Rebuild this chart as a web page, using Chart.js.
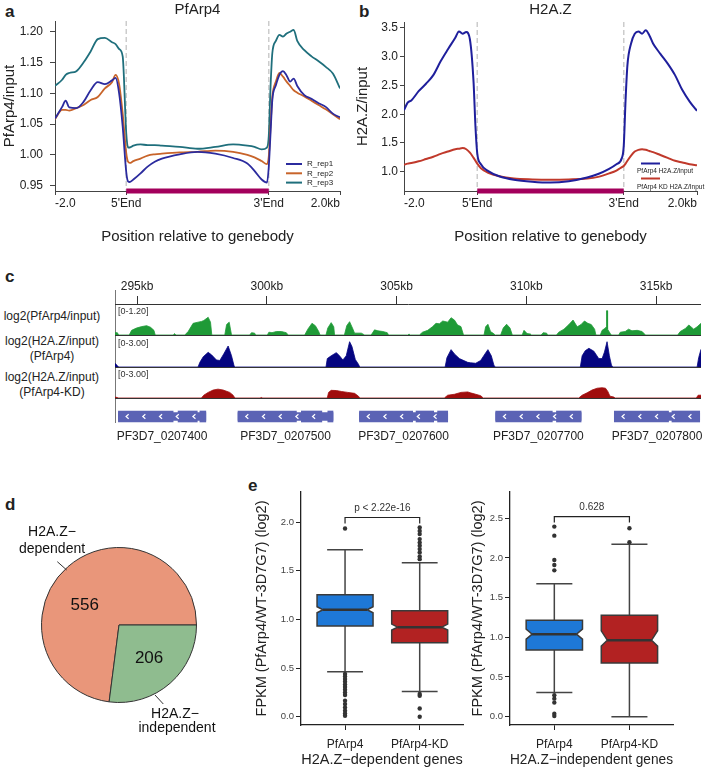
<!DOCTYPE html>
<html lang="en">
<head>
<meta charset="UTF-8">
<title>PfArp4 / H2A.Z occupancy</title>
<script src="https://cdn.jsdelivr.net/npm/chart.js"></script>
<style>
  body { margin: 0; background: #fff; }
  #fig { position: relative; width: 708px; height: 769px; overflow: hidden;
         font-family: "Liberation Sans", Arial, sans-serif; color: #222; }
  #fig canvas, #fig .t, #fig .ln { position: absolute; }
  .tag { font-weight: bold; font-size: 17px; line-height: 17px; }
  .trk { font-size: 12px; line-height: 15px; width: 104px; text-align: center; left: 0; }
  .ln { background: #333; }
</style>
</head>
<body>
<div id="fig">
  <div class="t tag" style="left:5px;top:3px">a</div>
  <div class="t tag" style="left:359px;top:3px">b</div>
  <div class="t tag" style="left:5px;top:268px">c</div>
  <div class="t tag" style="left:5px;top:496px">d</div>
  <div class="t tag" style="left:248px;top:477px">e</div>

  <canvas id="chartA" width="358" height="248" style="left:0;top:0"></canvas>
  <canvas id="chartB" width="354" height="248" style="left:354px;top:0"></canvas>

  <!-- c: genome browser -->
  <div class="t trk" style="top:309px">log2(PfArp4/input)</div>
  <div class="t trk" style="top:334px">log2(H2A.Z/input)<br>(PfArp4)</div>
  <div class="t trk" style="top:370px">log2(H2A.Z/input)<br>(PfArp4-KD)</div>
  <div class="ln" style="left:115px;top:290px;width:1px;height:133px;background:#777"></div>
  <canvas id="ruler" width="586" height="29" style="left:115px;top:276px"></canvas>
  <canvas id="trk1" width="586" height="28" style="left:115px;top:307px"></canvas>
  <canvas id="trk2" width="586" height="28" style="left:115px;top:339px"></canvas>
  <canvas id="trk3" width="586" height="28" style="left:115px;top:370px"></canvas>
  <div class="ln" style="left:115px;top:335px;width:586px;height:1px"></div>
  <div class="ln" style="left:115px;top:367px;width:586px;height:1px"></div>
  <div class="ln" style="left:115px;top:398px;width:586px;height:1px"></div>
  <canvas id="genes" width="593" height="40" style="left:115px;top:408px"></canvas>

  <canvas id="pie" width="250" height="240" style="left:0;top:505px"></canvas>
  <canvas id="boxDep" width="215" height="289" style="left:253px;top:480px"></canvas>
  <canvas id="boxInd" width="214" height="289" style="left:469px;top:480px"></canvas>
</div>

<script>
// ---------- a: PfArp4 meta-gene profile (-2..0 upstream, 0..4 scaled body, 4..6 downstream)
const profX = [-2.0, -1.8, -1.7, -1.6, -1.4, -1.2, -1.0, -0.8, -0.6, -0.4,
               -0.3, -0.2, -0.1, 0.0, 0.05, 0.1, 0.2, 0.4, 0.6, 0.8,
               1.0, 1.5, 2.0, 2.5, 3.0, 3.4, 3.6, 3.8, 3.95, 4.0,
               4.05, 4.1, 4.2, 4.3, 4.4, 4.5, 4.6, 4.7, 4.8, 5.0,
               5.2, 5.4, 5.6, 5.8, 6.0];
const rep1 = [1.059, 1.078, 1.088, 1.077, 1.076, 1.086, 1.105, 1.118, 1.115, 1.121,
              1.125, 1.100, 1.046, 0.972, 0.957, 0.956, 0.960, 0.970, 0.981, 0.989,
              0.994, 1.001, 1.005, 1.002, 0.995, 0.986, 0.974, 0.960, 0.955, 0.980,
              1.035, 1.089, 1.113, 1.130, 1.136, 1.129, 1.119, 1.124, 1.112, 1.097,
              1.091, 1.084, 1.078, 1.067, 1.061];
const rep2 = [1.058, 1.073, 1.073, 1.072, 1.076, 1.081, 1.089, 1.094, 1.108, 1.118,
              1.130, 1.115, 1.067, 1.003, 0.989, 0.987, 0.990, 0.994, 0.999, 1.001,
              1.002, 1.004, 1.005, 1.007, 1.005, 1.000, 0.996, 0.990, 0.985, 0.997,
              1.046, 1.094, 1.119, 1.133, 1.127, 1.119, 1.112, 1.105, 1.101, 1.095,
              1.088, 1.081, 1.074, 1.066, 1.058];
const rep3 = [1.112, 1.122, 1.130, 1.133, 1.136, 1.150, 1.168, 1.188, 1.190, 1.183,
              1.180, 1.172, 1.160, 1.035, 1.012, 1.012, 1.015, 1.017, 1.016, 1.016,
              1.015, 1.013, 1.010, 1.013, 1.017, 1.015, 1.013, 1.009, 1.012, 1.030,
              1.110, 1.165, 1.185, 1.195, 1.192, 1.197, 1.200, 1.203, 1.185, 1.170,
              1.160, 1.152, 1.143, 1.132, 1.108];
const aYTicks = [0.95, 1.00, 1.05, 1.10, 1.15, 1.20];

// ---------- b: H2A.Z meta-gene profile
const profXB = [-2.0, -1.9, -1.8, -1.6, -1.4, -1.2, -1.0, -0.8, -0.6, -0.5,
                -0.4, -0.3, -0.2, -0.1, -0.05, 0.0, 0.1, 0.3, 0.6, 1.0,
                1.5, 2.0, 2.5, 3.0, 3.3, 3.6, 3.8, 3.95, 4.0, 4.05,
                4.1, 4.2, 4.3, 4.4, 4.5, 4.6, 4.7, 4.8, 5.0, 5.2,
                5.4, 5.6, 5.8, 6.0];
const h2azWT = [2.07, 2.20, 2.24, 2.40, 2.53, 2.68, 2.92, 3.13, 3.33, 3.44,
                3.40, 3.43, 3.30, 2.55, 1.80, 1.32, 1.13, 1.01, 0.92, 0.86,
                0.825, 0.81, 0.835, 0.90, 0.96, 1.05, 1.13, 1.24, 1.45, 2.25,
                2.85, 3.23, 3.40, 3.44, 3.40, 3.46, 3.37, 3.23, 3.05, 2.88,
                2.68, 2.42, 2.22, 2.06];
const h2azKD = [1.12, 1.14, 1.15, 1.18, 1.22, 1.26, 1.31, 1.35, 1.39, 1.40,
                1.41, 1.39, 1.33, 1.24, 1.19, 1.14, 1.06, 0.98, 0.92, 0.88,
                0.865, 0.86, 0.865, 0.88, 0.91, 0.97, 1.02, 1.08, 1.10, 1.14,
                1.19, 1.28, 1.35, 1.38, 1.39, 1.38, 1.36, 1.34, 1.29, 1.24,
                1.19, 1.16, 1.13, 1.11];
const bYTicks = [1.0, 1.5, 2.0, 2.5, 3.0, 3.5];

const posTicks = [-2, 0, 4, 6];
const posTickLabels = ['-2.0', "5'End", "3'End", '2.0kb'];

// ---------- c: browser tracks, [kb, value]
const KB_MIN = 294.15, KB_MAX = 316.73;
const rulerTicks = [295, 300, 305, 310, 315];
const trackArp4 = [
  [294.15, 0.10], [294.24, 0.10], [294.29, 0],
  [294.70, 0], [294.79, 0.20], [294.98, 0.30], [295.18, 0.36], [295.37, 0.40], [295.52, 0.33], [295.65, 0.20], [295.70, 0],
  [296.40, 0], [296.44, 0.06], [296.50, 0],
  [296.84, 0], [296.97, 0.15], [297.16, 0.50], [297.35, 0.55], [297.48, 0.58], [297.57, 0.62], [297.74, 0.76], [297.83, 0.55], [297.88, 0],
  [298.38, 0], [298.45, 0.45], [298.55, 0.55], [298.64, 0],
  [299.34, 0], [299.41, 0.10], [299.53, 0.08], [299.57, 0],
  [300.02, 0], [300.08, 0.12], [300.20, 0.10], [300.37, 0.15], [300.56, 0.15], [300.75, 0.10], [300.82, 0],
  [301.46, 0], [301.58, 0.25], [301.74, 0.50], [301.87, 0.40], [302.00, 0.15], [302.05, 0],
  [302.28, 0], [302.35, 0.30], [302.48, 0.53], [302.58, 0.35], [302.61, 0],
  [302.99, 0], [303.08, 0.40], [303.19, 0.57], [303.32, 0.25], [303.38, 0.08], [303.64, 0.08], [303.77, 0],
  [304.02, 0], [304.15, 0.22], [304.28, 0.18], [304.47, 0.15], [304.64, 0.10], [304.69, 0],
  [305.43, 0], [305.48, 0.04], [305.53, 0],
  [305.88, 0], [306.00, 0.12], [306.20, 0.20], [306.39, 0.36], [306.52, 0.50], [306.65, 0.48], [306.78, 0.60], [306.97, 0.55],
  [307.10, 0.74], [307.23, 0.64], [307.35, 0.43], [307.48, 0.36], [307.58, 0],
  [308.37, 0], [308.43, 0.35], [308.52, 0.46], [308.62, 0.15], [308.75, 0.05], [308.80, 0],
  [309.01, 0], [309.11, 0.30], [309.24, 0.46], [309.37, 0.30], [309.46, 0],
  [309.84, 0], [309.91, 0.20], [310.03, 0.06], [310.16, 0.04], [310.20, 0],
  [310.57, 0], [310.65, 0.10], [310.78, 0.08], [310.82, 0],
  [311.16, 0], [311.25, 0.12], [311.45, 0.25], [311.64, 0.45], [311.80, 0.64], [311.96, 0.35], [312.11, 0.45], [312.24, 0.60],
  [312.37, 0.50], [312.50, 0.45], [312.63, 0.25], [312.68, 0],
  [312.85, 0], [312.92, 0.20], [313.05, 0.30], [313.08, 0.35], [313.09, 1.04], [313.12, 1.04], [313.13, 0.25], [313.24, 0.05], [313.28, 0],
  [313.56, 0], [313.62, 0.12], [313.81, 0.15], [313.94, 0.25], [314.07, 0.18], [314.27, 0.20], [314.46, 0.15], [314.59, 0],
  [315.83, 0], [315.93, 0.15], [316.13, 0.28], [316.26, 0.43], [316.45, 0.25], [316.58, 0.35], [316.73, 0.50]
];
const trackH2azWT = [
  [294.15, 0.39], [294.24, 0.15], [294.29, 0],
  [297.35, 0], [297.42, 0.50], [297.55, 1.10], [297.74, 1.57], [297.87, 1.30], [298.06, 0.75], [298.19, 0.70], [298.34, 1.40],
  [298.51, 2.25], [298.64, 1.20], [298.74, 0.10], [298.78, 0],
  [302.28, 0], [302.33, 0.90], [302.48, 1.20], [302.68, 1.54], [302.80, 1.20], [302.93, 0.75], [303.06, 1.20], [303.19, 2.71],
  [303.28, 2.20], [303.41, 0.80], [303.53, 0.30], [303.58, 0],
  [306.87, 0], [306.94, 1.00], [307.10, 1.86], [307.23, 1.40], [307.42, 0.90], [307.74, 0.50], [307.85, 0.45], [308.05, 0.40],
  [308.24, 0.70], [308.43, 1.50], [308.52, 1.86], [308.65, 1.20], [308.75, 0.20], [308.80, 0],
  [312.08, 0], [312.15, 1.20], [312.27, 1.75], [312.41, 2.00], [312.60, 1.70], [312.79, 0.90], [312.92, 0.90], [313.01, 1.60],
  [313.11, 2.71], [313.20, 1.20], [313.28, 0.20], [313.33, 0],
  [316.58, 0], [316.64, 1.00], [316.73, 1.90]
];
const trackH2azKD = [
  [294.15, 0.10], [294.24, 0.05], [294.29, 0],
  [297.48, 0], [297.57, 0.30], [297.74, 0.60], [297.93, 0.85], [298.12, 0.95], [298.32, 0.85], [298.57, 0.60], [298.70, 0.30], [298.77, 0],
  [299.74, 0], [299.79, 0.06], [299.84, 0],
  [302.33, 0], [302.38, 0.60], [302.48, 0.82], [302.68, 0.80], [302.87, 0.70], [303.12, 0.60], [303.38, 0.50], [303.53, 0.20], [303.58, 0],
  [306.84, 0], [306.97, 0.30], [307.23, 0.40], [307.48, 0.60], [307.74, 0.65], [307.85, 0.55], [308.05, 0.40], [308.24, 0.25], [308.34, 0],
  [312.02, 0], [312.15, 0.30], [312.34, 0.55], [312.53, 0.85], [312.73, 1.05], [312.92, 1.10], [313.05, 1.05], [313.14, 0.70],
  [313.22, 0.20], [313.37, 0.10], [313.42, 0],
  [316.55, 0], [316.62, 0.30], [316.73, 0.30]
];
const geneNames = ['PF3D7_0207400', 'PF3D7_0207500', 'PF3D7_0207600', 'PF3D7_0207700', 'PF3D7_0207800'];
const geneStart = [294.28, 298.89, 303.57, 308.82, 313.39];
const geneEnd   = [297.65, 302.55, 306.97, 312.11, 316.68];
const exons = [[294.28, 296.39], [296.58, 297.32], [297.42, 297.65],
               [298.89, 301.14], [301.33, 302.12], [302.35, 302.55],
               [303.57, 305.62], [305.75, 306.43], [306.58, 306.97],
               [308.82, 311.00], [311.16, 312.11],
               [313.39, 315.48], [315.61, 316.68]];

// ---------- d: gene counts
const pieLabels = ['H2A.Z\u2212dependent', 'H2A.Z\u2212independent'];
const pieCounts = [556, 206];

// ---------- e: FPKM ratio box plots
const groups = ['PfArp4', 'PfArp4-KD'];
const depLo = [0.462, 0.26], depQ1 = [0.932, 0.760], depMed = [1.100, 0.921], depQ3 = [1.254, 1.089], depHi = [1.716, 1.583];
const depNotchLo = [1.069, 0.891], depNotchHi = [1.131, 0.952];
const depOutArp4 = [1.935, 0.439, 0.414, 0.387, 0.36, 0.332, 0.305, 0.277, 0.25, 0.223, 0.164, 0.13, 0.096, 0.062, 0.034, 0.01];
const depOutKD = [1.946, 1.91, 1.877, 1.826, 1.79, 1.757, 1.723, 1.689, 1.648, 1.62, 0.233, 0.216, 0.085, 0.0];
const indLo = [0.303, 0.0], indQ1 = [0.841, 0.677], indMed = [1.039, 0.963], indQ3 = [1.216, 1.279], indHi = [1.674, 2.172];
const indNotchLo = [0.976, 0.888], indNotchHi = [1.103, 1.081];
const indOutArp4 = [2.394, 2.28, 1.973, 1.91, 1.843, 0.269, 0.227, 0.177, 0.038, 0.008];
const indOutKD = [2.374, 2.197];
const pLabels = ['p < 2.22e-16', '0.628'];
const pBracketY = [2.048, 2.52];
const depYTicks = [0, 0.5, 1.0, 1.5, 2.0];
const indYTicks = [0, 0.5, 1.0, 1.5, 2.0, 2.5];

// ================= setup
const FONT = "'Liberation Sans', Arial, sans-serif";
Chart.defaults.font.family = FONT;
Chart.defaults.color = '#222';
Chart.defaults.animation = false;
Chart.defaults.responsive = false;
Chart.defaults.plugins.legend.display = false;
Chart.defaults.plugins.tooltip.enabled = false;

function fixW(w) { return s => { s.width = w; s.paddingTop = 0; s.paddingBottom = 0; }; }
function fixH(h) { return s => { s.height = h; s.paddingLeft = 0; s.paddingRight = 0; }; }
function setTicks(list) { return s => { s.ticks = list.map(v => ({ value: v })); }; }

// dashed gene-body borders, magenta body bar, title and key
function profileMarks(cfg) {
  return {
    id: 'profileMarks',
    beforeDatasetsDraw(chart) {
      const { ctx, chartArea: a, scales: { x } } = chart;
      ctx.save();
      ctx.strokeStyle = '#cccccc';
      ctx.lineWidth = 1.5;
      ctx.setLineDash([5, 3]);
      [0, 4].forEach(v => {
        const px = x.getPixelForValue(v);
        ctx.beginPath(); ctx.moveTo(px, a.top); ctx.lineTo(px, a.bottom); ctx.stroke();
      });
      ctx.restore();
    },
    afterDraw(chart) {
      const { ctx, chartArea: a, scales: { x } } = chart;
      ctx.save();
      const x0 = x.getPixelForValue(0), x1 = x.getPixelForValue(4);
      ctx.fillStyle = '#a3005c';
      ctx.fillRect(x0, a.bottom - 2.5, x1 - x0, 5);
      ctx.fillStyle = '#222';
      ctx.font = '15px ' + FONT;
      ctx.textAlign = 'center';
      ctx.textBaseline = 'middle';
      ctx.fillText(cfg.title, (a.left + a.right) / 2, 10);
      ctx.font = cfg.keyFont;
      ctx.textAlign = 'left';
      chart.data.datasets.forEach((ds, i) => {
        const k = cfg.key[i];
        ctx.strokeStyle = ds.borderColor;
        ctx.lineWidth = 2;
        ctx.beginPath(); ctx.moveTo(cfg.keyX, k[0]); ctx.lineTo(cfg.keyX + cfg.keyLen, k[0]); ctx.stroke();
        ctx.fillStyle = '#222';
        ctx.fillText(ds.label, cfg.textX, k[1]);
      });
      ctx.restore();
    }
  };
}

function profileChart(id, xs, series, cfg) {
  return new Chart(document.getElementById(id), {
    type: 'line',
    data: {
      datasets: series.map(s => ({
        label: s.label,
        data: xs.map((x, i) => ({ x, y: s.values[i] })),
        borderColor: s.color,
        borderWidth: cfg.lineWidth,
        pointRadius: 0,
        cubicInterpolationMode: 'monotone',
        fill: false
      }))
    },
    options: {
      layout: { padding: cfg.padding },
      scales: {
        x: {
          type: 'linear', min: -2, max: 6,
          afterBuildTicks: setTicks(posTicks),
          afterFit: fixH(57),
          ticks: { callback: (v, i) => posTickLabels[i], align: 'inner', maxRotation: 0, autoSkip: false,
                   padding: 1, font: { size: 12 }, color: '#222' },
          grid: { drawOnChartArea: false, tickLength: 4, color: '#444' },
          border: { color: '#444' },
          title: { display: true, text: 'Position relative to genebody', font: { size: 15 },
                   padding: { top: 0, bottom: 2 }, color: '#222' }
        },
        y: {
          min: cfg.yMin, max: cfg.yMax,
          afterBuildTicks: setTicks(cfg.yTicks),
          afterFit: fixW(cfg.yWidth),
          ticks: { callback: v => v.toFixed(cfg.dec), autoSkip: false, padding: cfg.tickPad,
                   font: { size: 12 }, color: '#222' },
          grid: { drawOnChartArea: false, tickLength: cfg.tickLen, color: '#444' },
          border: { color: '#444' },
          title: { display: true, text: cfg.yTitle, font: { size: 15 },
                   padding: { top: cfg.titlePad, bottom: 0 }, color: '#222' }
        }
      }
    },
    plugins: [profileMarks(cfg)]
  });
}

profileChart('chartA', profX, [
  { label: 'R_rep1', values: rep1, color: '#2b2b9e' },
  { label: 'R_rep2', values: rep2, color: '#c8642a' },
  { label: 'R_rep3', values: rep3, color: '#1f6f7c' }
], {
  title: 'PfArp4', yTitle: 'PfArp4/input', yMin: 0.9414, yMax: 1.2174, yTicks: aYTicks, dec: 2,
  yWidth: 55, tickPad: 7, tickLen: 5, titlePad: 1, lineWidth: 1.8,
  padding: { top: 21, right: 18, left: 0, bottom: 0 },
  keyFont: '8px ' + FONT, keyX: 286, keyLen: 16, textX: 307,
  key: [[164, 164], [173.3, 173.3], [182.6, 182.6]]
});

profileChart('chartB', profXB, [
  { label: 'PfArp4 H2A.Z/input', values: h2azWT, color: '#1f1f9c' },
  { label: 'PfArp4 KD H2A.Z/Input', values: h2azKD, color: '#c0392b' }
], {
  title: 'H2A.Z', yTitle: 'H2A.Z/input', yMin: 0.664, yMax: 3.604, yTicks: bYTicks, dec: 1,
  yWidth: 50, tickPad: 2, tickLen: 4, titlePad: 0, lineWidth: 2,
  padding: { top: 22, right: 11, left: 0, bottom: 0 },
  keyFont: '6.5px ' + FONT, keyX: 287, keyLen: 19, textX: 283,
  key: [[163.5, 171], [178.5, 187]]
});

// ---------- c
new Chart(document.getElementById('ruler'), {
  type: 'line',
  data: { datasets: [] },
  options: {
    layout: { padding: 0 },
    scales: {
      x: {
        type: 'linear', position: 'top', min: KB_MIN, max: KB_MAX,
        afterBuildTicks: setTicks(rulerTicks),
        afterFit: fixH(28),
        ticks: { callback: v => v + 'kb', padding: 2, maxRotation: 0, autoSkip: false, font: { size: 12 }, color: '#222' },
        grid: { drawOnChartArea: false, tickLength: 8, color: '#333' },
        border: { color: '#333' }
      },
      y: { display: false }
    }
  }
});

const rangeLabel = {
  id: 'rangeLabel',
  afterDraw(chart) {
    const { ctx, chartArea: a, scales: { y } } = chart;
    ctx.save();
    ctx.font = '9px ' + FONT;
    ctx.fillStyle = '#333';
    ctx.textBaseline = 'middle';
    ctx.fillText('[0-' + y.max.toFixed(2) + ']', a.left + 3, a.top + 5);
    ctx.restore();
  }
};

function trackChart(id, pts, max, color) {
  new Chart(document.getElementById(id), {
    type: 'line',
    data: { datasets: [{
      data: pts.map(p => ({ x: p[0], y: p[1] })),
      borderColor: color, backgroundColor: color, borderWidth: 0.8,
      fill: 'origin', pointRadius: 0, tension: 0
    }] },
    options: {
      layout: { padding: 0 },
      scales: {
        x: { type: 'linear', min: KB_MIN, max: KB_MAX, display: false },
        y: { min: 0, max: max, display: false }
      }
    },
    plugins: [rangeLabel]
  });
}
trackChart('trk1', trackArp4, 1.2, '#1f9a37');
trackChart('trk2', trackH2azWT, 3.0, '#050580');
trackChart('trk3', trackH2azKD, 3.0, '#a00d0d');

const geneDecor = {
  id: 'geneDecor',
  afterDatasetsDraw(chart) {
    const { ctx, chartArea: a, scales: { x } } = chart;
    const cy = (a.top + a.bottom) / 2;
    ctx.save();
    ctx.strokeStyle = '#fff';
    ctx.lineWidth = 1.2;
    geneStart.forEach((s, i) => {
      const x0 = x.getPixelForValue(s), x1 = x.getPixelForValue(geneEnd[i]);
      for (let px = x0 + 9; px < x1 - 6; px += 16.7) {
        ctx.beginPath();
        ctx.moveTo(px + 1.3, cy - 2.3); ctx.lineTo(px - 1.3, cy); ctx.lineTo(px + 1.3, cy + 2.3);
        ctx.stroke();
      }
    });
    ctx.fillStyle = '#222';
    ctx.font = '12px ' + FONT;
    ctx.textAlign = 'center';
    ctx.textBaseline = 'middle';
    geneNames.forEach((n, i) => {
      ctx.fillText(n, (x.getPixelForValue(geneStart[i]) + x.getPixelForValue(geneEnd[i])) / 2, a.bottom + 12);
    });
    ctx.restore();
  }
};

new Chart(document.getElementById('genes'), {
  type: 'bar',
  data: {
    labels: ['genes'],
    datasets: [
      { data: geneStart.map((s, i) => ({ y: 'genes', x: [s, geneEnd[i]] })), backgroundColor: '#5b63b5', barThickness: 8, grouped: false },
      { data: exons.map(e => ({ y: 'genes', x: e })), backgroundColor: '#5b63b5', barThickness: 11, grouped: false }
    ]
  },
  options: {
    indexAxis: 'y',
    layout: { padding: { left: 0, right: 7, top: 0, bottom: 23 } },
    scales: {
      x: { type: 'linear', min: KB_MIN, max: KB_MAX, display: false },
      y: { display: false }
    }
  },
  plugins: [geneDecor]
});

// ---------- d
const pieNumPos = [[210, 0.51], [48, 0.58]];
const pieOuterPos = [
  { text: [[52, 27], [52, 44]], lead: [[57.3, 56.7], [66.7, 65]] },
  { text: [[175, 209.5], [177, 223.5]], lead: [[155, 190], [163.3, 199]] }
];
const pieNotes = {
  id: 'pieNotes',
  afterDraw(chart) {
    const { ctx } = chart;
    const arc = chart.getDatasetMeta(0).data[0];
    const cx = arc.x, cy = arc.y, R = arc.outerRadius;
    ctx.save();
    ctx.fillStyle = '#111';
    ctx.textAlign = 'center';
    ctx.textBaseline = 'middle';
    ctx.font = '17px ' + FONT;
    chart.data.datasets[0].data.forEach((n, i) => {
      const t = pieNumPos[i][0] * Math.PI / 180;
      ctx.fillText(String(n), cx + Math.cos(t) * R * pieNumPos[i][1], cy + Math.sin(t) * R * pieNumPos[i][1]);
    });
    ctx.font = '14px ' + FONT;
    ctx.strokeStyle = '#333';
    ctx.lineWidth = 1;
    chart.data.labels.forEach((lab, i) => {
      const k = lab.indexOf('\u2212') + 1;
      const parts = [lab.slice(0, k), lab.slice(k)];
      const p = pieOuterPos[i];
      parts.forEach((s, j) => ctx.fillText(s, p.text[j][0], p.text[j][1]));
      ctx.beginPath(); ctx.moveTo(p.lead[0][0], p.lead[0][1]); ctx.lineTo(p.lead[1][0], p.lead[1][1]); ctx.stroke();
    });
    ctx.restore();
  }
};
const pieTotal = pieCounts.reduce((s, v) => s + v, 0);
new Chart(document.getElementById('pie'), {
  type: 'pie',
  data: {
    labels: pieLabels,
    datasets: [{ data: pieCounts, backgroundColor: ['#e9967a', '#8fbc8f'], borderColor: '#333', borderWidth: 1 }]
  },
  options: {
    rotation: 90 + 360 * pieCounts[1] / pieTotal,
    layout: { padding: { left: 41, right: 53, top: 42, bottom: 42 } }
  },
  plugins: [pieNotes]
});

// ---------- e
const boxColors = ['#1e78d7', '#b22222'];
function boxPlot(st, sigY, sigText) {
  return {
    id: 'boxPlot',
    beforeDatasetsDraw(chart) {
      const { ctx, scales: { x, y } } = chart;
      const py = v => y.getPixelForValue(v);
      ctx.save();
      st.med.forEach((m, i) => {
        const cx = x.getPixelForValue(i);
        const hw = x.getPixelForValue(i + 0.375) - cx;
        const cap = x.getPixelForValue(i + 0.24) - cx;
        const ind = x.getPixelForValue(i + 0.08) - cx;
        const yLo = py(st.lo[i]), yHi = py(st.hi[i]), yQ1 = py(st.q1[i]), yQ3 = py(st.q3[i]);
        const yM = py(m), yNl = py(st.nlo[i]), yNh = py(st.nhi[i]);
        ctx.strokeStyle = '#444';
        ctx.lineWidth = 1.5;
        ctx.beginPath();
        ctx.moveTo(cx, yQ3); ctx.lineTo(cx, yHi);
        ctx.moveTo(cx - cap, yHi); ctx.lineTo(cx + cap, yHi);
        ctx.moveTo(cx, yQ1); ctx.lineTo(cx, yLo);
        ctx.moveTo(cx - cap, yLo); ctx.lineTo(cx + cap, yLo);
        ctx.stroke();
        ctx.beginPath();
        ctx.moveTo(cx - hw, yQ3); ctx.lineTo(cx + hw, yQ3); ctx.lineTo(cx + hw, yNh);
        ctx.lineTo(cx + hw - ind, yM); ctx.lineTo(cx + hw, yNl); ctx.lineTo(cx + hw, yQ1);
        ctx.lineTo(cx - hw, yQ1); ctx.lineTo(cx - hw, yNl); ctx.lineTo(cx - hw + ind, yM);
        ctx.lineTo(cx - hw, yNh); ctx.closePath();
        ctx.fillStyle = boxColors[i];
        ctx.fill();
        ctx.strokeStyle = '#3a3a3a';
        ctx.stroke();
        ctx.beginPath();
        ctx.moveTo(cx - hw + ind, yM); ctx.lineTo(cx + hw - ind, yM);
        ctx.lineWidth = 2.5;
        ctx.strokeStyle = '#333';
        ctx.stroke();
      });
      const xa = x.getPixelForValue(0), xb = x.getPixelForValue(1), yb = py(sigY);
      ctx.strokeStyle = '#222';
      ctx.lineWidth = 1.2;
      ctx.beginPath();
      ctx.moveTo(xa, yb + 6); ctx.lineTo(xa, yb); ctx.lineTo(xb, yb); ctx.lineTo(xb, yb + 6);
      ctx.stroke();
      ctx.fillStyle = '#333';
      ctx.font = '10px ' + FONT;
      ctx.textAlign = 'center';
      ctx.textBaseline = 'middle';
      ctx.fillText(sigText, (xa + xb) / 2, yb - 9);
      ctx.restore();
    }
  };
}

function boxChart(id, st, outA, outB, yMin, yMax, yTicks, yWidth, padRight, title, sigY, sigText) {
  const pts = outA.map(v => ({ x: 0, y: v })).concat(outB.map(v => ({ x: 1, y: v })));
  new Chart(document.getElementById(id), {
    type: 'scatter',
    data: { datasets: [{ data: pts, pointRadius: 2.2, backgroundColor: '#333', borderWidth: 0 }] },
    options: {
      layout: { padding: { top: 12, right: padRight, left: 0, bottom: 0 } },
      scales: {
        x: {
          type: 'linear', min: -0.59, max: 1.58,
          afterBuildTicks: setTicks([0, 1]),
          afterFit: fixH(44),
          ticks: { callback: v => groups[v], maxRotation: 0, autoSkip: false, padding: 7, font: { size: 12 }, color: '#222' },
          grid: { drawOnChartArea: false, tickLength: 5, color: '#222' },
          border: { color: '#222', width: 1.3 },
          title: { display: true, text: title, font: { size: 14.5 }, padding: 0, color: '#222' }
        },
        y: {
          min: yMin, max: yMax,
          afterBuildTicks: setTicks(yTicks),
          afterFit: fixW(yWidth),
          ticks: { callback: v => v.toFixed(1), autoSkip: false, padding: 2, font: { size: 9.5 }, color: '#444' },
          grid: { drawOnChartArea: false, tickLength: 5, color: '#222' },
          border: { color: '#222', width: 1.3 },
          title: { display: true, text: 'FPKM (PfArp4/WT-3D7G7) (log2)', font: { size: 14.5 },
                   padding: { top: 0, bottom: 0 }, color: '#222' }
        }
      }
    },
    plugins: [boxPlot(st, sigY, sigText)]
  });
}

boxChart('boxDep',
  { lo: depLo, q1: depQ1, med: depMed, q3: depQ3, hi: depHi, nlo: depNotchLo, nhi: depNotchHi },
  depOutArp4, depOutKD, -0.085, 2.31, depYTicks, 48, 5, 'H2A.Z\u2212dependent genes', pBracketY[0], pLabels[0]);
boxChart('boxInd',
  { lo: indLo, q1: indQ1, med: indMed, q3: indQ3, hi: indHi, nlo: indNotchLo, nhi: indNotchHi },
  indOutArp4, indOutKD, -0.105, 2.83, indYTicks, 41, 10, 'H2A.Z\u2212independent genes', pBracketY[1], pLabels[1]);
</script>
</body>
</html>
